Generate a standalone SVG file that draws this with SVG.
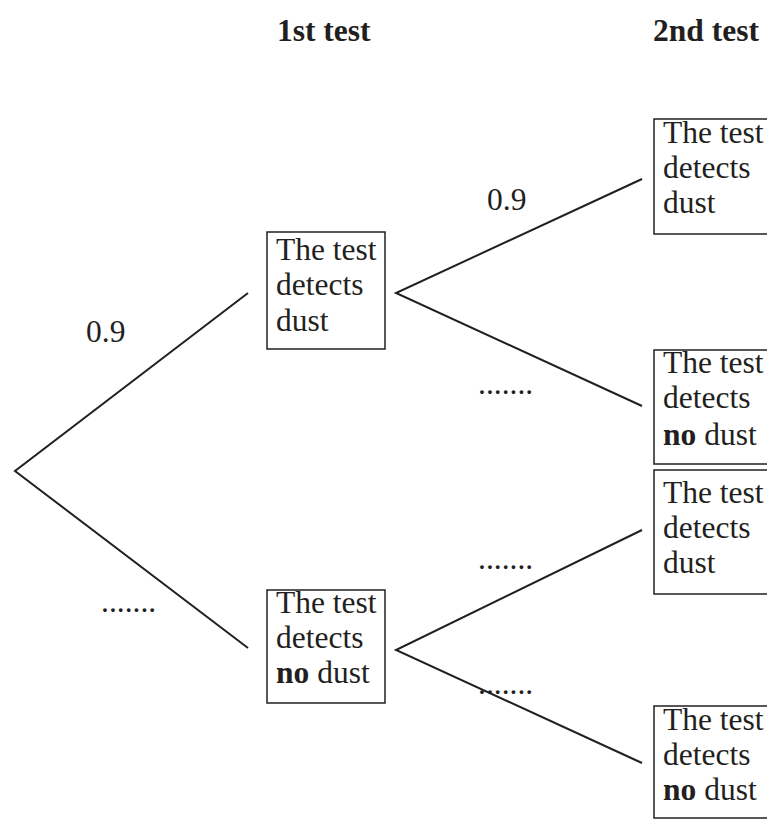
<svg xmlns="http://www.w3.org/2000/svg" width="767" height="821" viewBox="0 0 767 821">
<style>
text{font-size:31.5px;fill:#231f20}
.h{font-weight:bold}
.box{fill:none;stroke:#231f20;stroke-width:1.5}
.ln{stroke:#231f20;stroke-width:2;fill:none}
</style>
<rect width="767" height="821" fill="#fff"/>
<g font-family="'Liberation Serif', 'Times New Roman', Tinos, 'DejaVu Serif', serif">
<g id="headers">
<text class="h" x="277" y="41">1st test</text>
<text class="h" x="653" y="41">2nd test</text>
</g>
<g id="connectors">
<polyline class="ln" points="248,293 15,471 248,648"/>
<polyline class="ln" points="642,179 396,293 642,406"/>
<polyline class="ln" points="642,530 396,650 642,763"/>
</g>
<g id="labels">
<text x="86" y="342">0.9</text>
<text x="487" y="210">0.9</text>
<text x="101" y="612">.......</text>
<text x="478" y="394">.......</text>
<text x="478" y="569">.......</text>
<text x="478" y="694">.......</text>
</g>
<g id="n1a">
<rect class="box" x="267" y="232" width="118" height="117"/>
<text x="276" y="260">The test</text>
<text x="276" y="295">detects</text>
<text x="276" y="331">dust</text>
</g>
<g id="n1b">
<rect class="box" x="267" y="590" width="118" height="113"/>
<text x="276" y="613">The test</text>
<text x="276" y="648">detects</text>
<text x="276" y="683"><tspan class="h">no</tspan> dust</text>
</g>
<g id="n2a">
<rect class="box" x="654" y="119" width="130" height="115"/>
<text x="663" y="143">The test</text>
<text x="663" y="178">detects</text>
<text x="663" y="213">dust</text>
</g>
<g id="n2b">
<rect class="box" x="654" y="350" width="130" height="114"/>
<text x="663" y="373">The test</text>
<text x="663" y="408">detects</text>
<text x="663" y="445"><tspan class="h">no</tspan> dust</text>
</g>
<g id="n2c">
<rect class="box" x="654" y="470" width="130" height="124"/>
<text x="663" y="503">The test</text>
<text x="663" y="538">detects</text>
<text x="663" y="573">dust</text>
</g>
<g id="n2d">
<rect class="box" x="654" y="706" width="130" height="112"/>
<text x="663" y="730">The test</text>
<text x="663" y="765">detects</text>
<text x="663" y="800"><tspan class="h">no</tspan> dust</text>
</g>
</g>
</svg>
